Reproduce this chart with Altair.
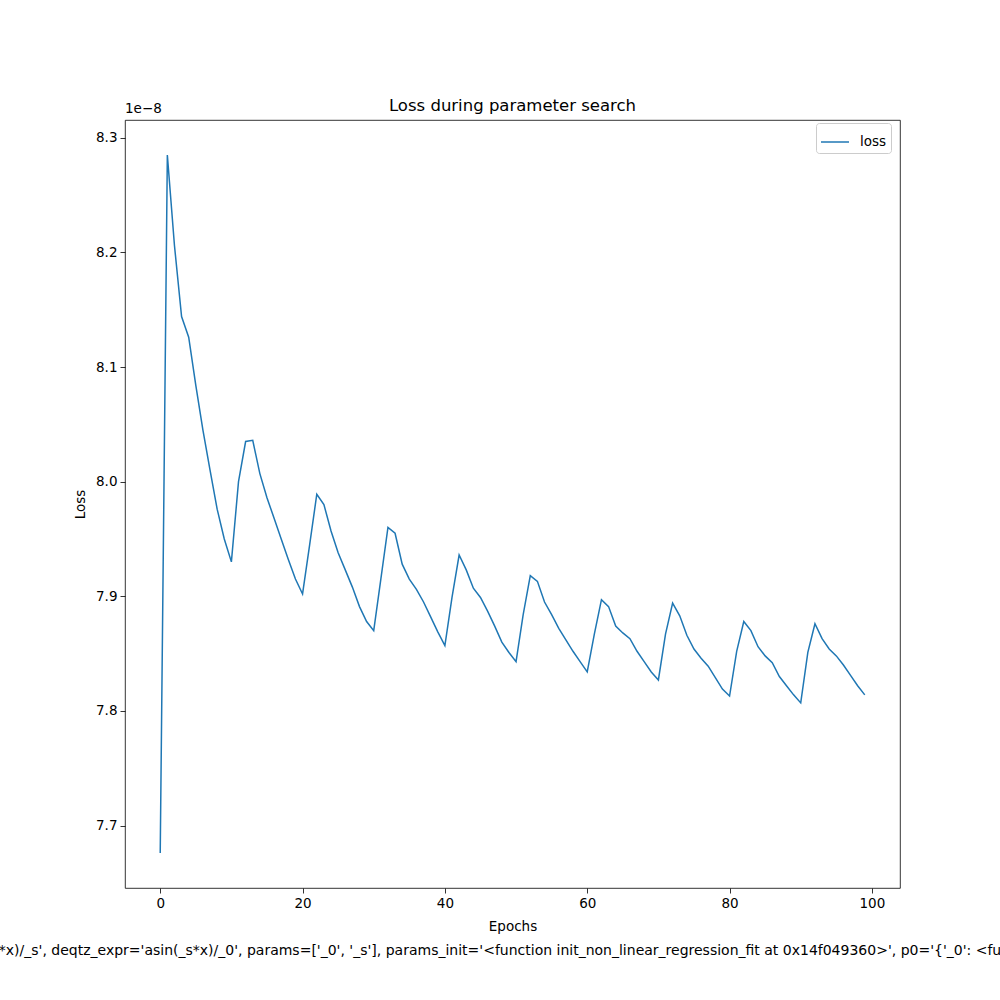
import altair as alt
import pandas as pd

epochs = list(range(100))
loss = [
    7.676, 8.285, 8.206, 8.144, 8.126, 8.084, 8.045, 8.010, 7.976, 7.950,
    7.930, 8.000, 8.035, 8.036, 8.007, 7.986, 7.968, 7.950, 7.932, 7.915,
    7.902, 7.945, 7.989, 7.980, 7.957, 7.938, 7.923, 7.908, 7.891, 7.878,
    7.870, 7.915, 7.960, 7.955, 7.928, 7.915, 7.906, 7.895, 7.882, 7.869,
    7.857, 7.899, 7.936, 7.923, 7.907, 7.899, 7.887, 7.874, 7.860, 7.851,
    7.843, 7.884, 7.918, 7.913, 7.895, 7.884, 7.872, 7.862, 7.852, 7.843,
    7.834, 7.867, 7.897, 7.891, 7.874, 7.868, 7.863, 7.852, 7.843, 7.834,
    7.827, 7.867, 7.894, 7.883, 7.866, 7.854, 7.846, 7.839, 7.829, 7.819,
    7.813, 7.852, 7.878, 7.870, 7.856, 7.848, 7.842, 7.830, 7.822, 7.814,
    7.807, 7.851, 7.876, 7.863, 7.854, 7.848, 7.840, 7.831, 7.822, 7.814,
]
series = ["loss"] * len(epochs)
x_ticks = [0, 20, 40, 60, 80, 100]
y_ticks = [7.7, 7.8, 7.9, 8.0, 8.1, 8.2, 8.3]
title_text = "Loss during parameter search"
offset_text = "1e\u22128"
footer_text = ("*x)/_s', deqtz_expr='asin(_s*x)/_0', params=['_0', '_s'], "
               "params_init='<function init_non_linear_regression_fit at 0x14f049360>', p0='{'_0': <fu")

df = pd.DataFrame({"Epochs": epochs, "Loss": loss, "series": series})

FONT = "DejaVu Sans"

line = alt.Chart(df).mark_line(strokeWidth=1.5).encode(
    x=alt.X("Epochs:Q", scale=alt.Scale(domain=[-4.95, 103.95], nice=False, zero=False),
            axis=alt.Axis(values=x_ticks, format="d", grid=False, domain=False,
                          tickSize=5, tickColor="black", tickWidth=0.8,
                          labelColor="black", labelFontSize=13.5, labelFont=FONT,
                          labelPadding=3, title="Epochs", titleFont=FONT,
                          titleFontSize=13.5, titleFontWeight="normal",
                          titleColor="black", titlePadding=10)),
    y=alt.Y("Loss:Q", scale=alt.Scale(domain=[7.6455, 8.3155], nice=False, zero=False),
            axis=alt.Axis(values=y_ticks, format=".1f", grid=False, domain=False,
                          tickSize=5, tickColor="black", tickWidth=0.8,
                          labelColor="black", labelFontSize=13.5, labelFont=FONT,
                          labelPadding=3, title="Loss", titleFont=FONT,
                          titleFontSize=13.5, titleFontWeight="normal",
                          titleColor="black", titlePadding=8)),
    color=alt.Color("series:N", scale=alt.Scale(domain=["loss"], range=["#1f77b4"]),
                    legend=alt.Legend(title=None, orient="none", legendX=691, legendY=3,
                                      symbolType="M-1,0H1", symbolSize=784,
                                      symbolStrokeWidth=1.5, labelFontSize=13.5,
                                      labelFont=FONT, labelColor="black",
                                      fillColor="white", strokeColor="#cccccc",
                                      cornerRadius=3, padding=4, labelOffset=10)),
)

title = alt.Chart(pd.DataFrame({"t": [title_text]})).mark_text(
    align="center", baseline="bottom", fontSize=16.5, font=FONT, color="black"
).encode(x=alt.value(387.5), y=alt.value(-6), text="t:N")

offset = alt.Chart(pd.DataFrame({"t": [offset_text]})).mark_text(
    align="left", baseline="bottom", fontSize=13.5, font=FONT, color="black"
).encode(x=alt.value(0), y=alt.value(-4), text="t:N")

footer = alt.Chart(pd.DataFrame({"t": [footer_text]})).mark_text(
    align="center", baseline="middle", fontSize=14, font=FONT, color="black"
).encode(x=alt.value(375), y=alt.value(831), text="t:N")

chart = alt.layer(line, title, offset, footer).properties(
    width=775, height=768,
    autosize=alt.AutoSizeParams(type="none"),
    padding={"left": 125, "top": 120, "right": 100, "bottom": 112},
).configure(background="white").configure_view(stroke="black", strokeWidth=0.8)

chart.save("out.html", embed_options={"renderer": "svg", "actions": False})
